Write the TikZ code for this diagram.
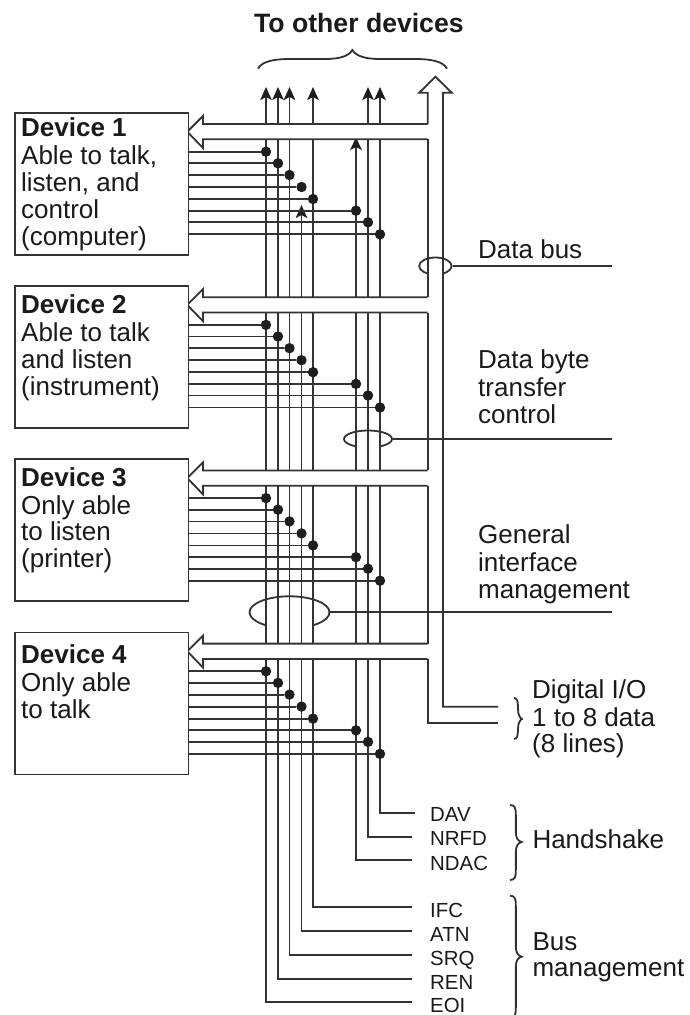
\documentclass[tikz,border=0pt]{standalone}
\usepackage{fontspec}
\setmainfont{Liberation Sans}
\usetikzlibrary{arrows.meta,shapes.geometric}
\definecolor{ink}{HTML}{333333}
\definecolor{dotc}{HTML}{1E1E1E}
\definecolor{txt}{HTML}{1A1A1A}
\newcommand{\myrbrace}[5]{% x-left, x-tip, y-top, y-tip, y-bottom
  \pgfmathsetmacro{\xm}{(#1+#2)/2}
  \draw[wire] (#1,#3) .. controls (\xm-1,#3) and (\xm,#3+3) .. (\xm,#3+10)
    -- (\xm,#4-10) .. controls (\xm,#4-4) and (\xm+2,#4-1) .. (#2,#4)
    .. controls (\xm+2,#4+1) and (\xm,#4+4) .. (\xm,#4+10)
    -- (\xm,#5-10) .. controls (\xm,#5-3) and (\xm-1,#5) .. (#1,#5);
}
\tikzset{
  wire/.style={draw=ink,line width=1.8pt},
  devbox/.style={draw=ink,line width=1.8pt,fill=white,rectangle,minimum width=173.7pt,minimum height=142pt,anchor=north west,inner sep=0pt},
  ring/.style={draw=ink,line width=1.8pt,ellipse,inner sep=0pt},
  dotn/.style={circle,fill=dotc,inner sep=0pt,minimum size=10.4pt},
  big/.style={font=\fontsize{26}{26.8}\selectfont,text=txt,anchor=north west,align=left,inner sep=0pt},
  small/.style={font=\fontsize{20.4}{24}\selectfont,text=txt,anchor=base west,inner sep=0pt},
  head/.style={-{Stealth[length=13pt,width=11.5pt,inset=3pt,color=dotc]}}
}
\begin{document}
\begin{tikzpicture}[x=1pt,y=-1pt]
\useasboundingbox (0,0) rectangle (690,1015);
\fill[white] (0,0) rectangle (690,1015);
\clip (0,0) rectangle (690,1015);

% cables
\coordinate (busend) at (612,266);
\coordinate (byteend) at (612,439);
\coordinate (genend) at (612,612.3);
\node[ring,minimum width=32.5pt,minimum height=17pt] (ringA) at (435.4,266) {};
\node[ring,minimum width=48pt,minimum height=17pt] (ringB) at (368,439) {};
\node[ring,minimum width=80pt,minimum height=32pt] (ringC) at (289.5,612.3) {};
\fill[white] (427.7,266) rectangle (443,276);
\fill[white] (356,439) rectangle (380,449);
\fill[white] (266,612.3) rectangle (313,630);
\draw[wire] (ringA.east) -- (busend);
\draw[wire] (ringB.east) -- (byteend);
\draw[wire] (ringC.east) -- (genend);

% signal lines with labels
\foreach \nm/\lab/\cx/\ctop/\rowy/\endx/\base in {
  eoi/EOI/266/87/1002.3/411.7/1012.8,
  ren/REN/278/87/978.7/411.7/989.3,
  srq/SRQ/289.5/87/954.7/411.7/965.7,
  atn/ATN/301.5/205/931/411.7/941.7,
  ifc/IFC/313/87/907/411.7/917.7,
  ndac/NDAC/356/137/860.3/411.7/870,
  nrfd/NRFD/368/87/837/411.7/845.7,
  dav/DAV/380/87/813.3/415/821.7}{
  \node[small] (\nm) at (430,\base) {\lab};
  \coordinate (\nm end) at (\endx,\rowy);
  \coordinate (\nm top) at (\cx,\ctop);
  \draw[wire,head] (\nm end) -- (\cx,\rowy) -- (\nm top);
}

% bus towards other devices
\coordinate (ioA) at (498,706.7);
\coordinate (ioB) at (498,722.7);
\draw[wire] (427.7,124) -- (427.7,92.7) -- (419.3,92.7) -- (435.4,76.7) -- (451.7,92.7) -- (443,92.7) |- (ioA);

% devices
\foreach \d/\dy in {1/0,2/173.2,3/346.4,4/519.6}{
  \begin{scope}[yshift=-\dy pt]
    \fill[white] (427.7,124) -- (203,124) -- (203,116) -- (187.3,131.7) -- (203,148) -- (203,139.3) -- (427.7,139.3) -- cycle;
    \draw[wire,line join=miter] (427.7,124) -- (203,124) -- (203,116) -- (187.3,131.7) -- (203,148) -- (203,139.3) -- (427.7,139.3);
    \node[devbox] (dev\d) at (13.8,112) {};
    \foreach \j/\x/\y in {1/266/151.7,2/278/163.3,3/289.5/175,4/301.5/187,5/313/199,6/356/210.7,7/368/222.3,8/380/234.3}{
      \node[dotn] (dot\d\j) at (\x,\y) {};
      \draw[wire] (dev\d.east |- dot\d\j) -- (dot\d\j);
    }
  \end{scope}
}
\draw[wire] (427.7,139.3) -- (427.7,297.2);
\draw[wire] (427.7,312.5) -- (427.7,470.4);
\draw[wire] (427.7,485.7) -- (427.7,643.6);
\draw[wire] (427.7,658.9) |- (ioB);

% braces
\draw[wire] (258,68.7) .. controls (262,61) and (275,59) .. (290,59) -- (325,59)
  .. controls (340,59) and (349,56) .. (352.3,50)
  .. controls (356,56) and (365,59) .. (380,59) -- (415,59)
  .. controls (430,59) and (443,61) .. (447,68.7);
\myrbrace{514}{522}{698}{719}{739}
\myrbrace{510}{521.7}{805}{842}{880}
\myrbrace{510}{521.7}{895.7}{956.7}{1017.7}

% texts
\node[small,font=\fontsize{26.6}{27}\selectfont\bfseries] (title) at (254,32.4) {To other devices};
\node[big] (t1) at (21,117.9) {\strut\textbf{Device 1}\\Able to talk,\\listen, and\\control\\(computer)};
\node[big] (t2) at (21,294.5) {\strut\textbf{Device 2}\\Able to talk\\and listen\\(instrument)};
\node[big] (t3) at (21,467.2) {\strut\textbf{Device 3}\\Only able\\to listen\\(printer)};
\node[big] (t4) at (21,644.5) {\strut\textbf{Device 4}\\Only able\\to talk};
\node[big] (lbus) at (478,239.5) {\strut Data bus};
\node[big] (lbyte) at (478,349.5) {\strut Data byte\\transfer\\control};
\node[big] (lgen) at (478,524.5) {\strut General\\interface\\management};
\node[big] (lio) at (532,679.2) {\strut Digital I/O\\1 to 8 data\\(8 lines)};
\node[big] (lhs) at (532.3,829.5) {\strut Handshake};
\node[big] (lbm) at (532.3,931.2) {\strut Bus\\management};
\end{tikzpicture}
\end{document}
